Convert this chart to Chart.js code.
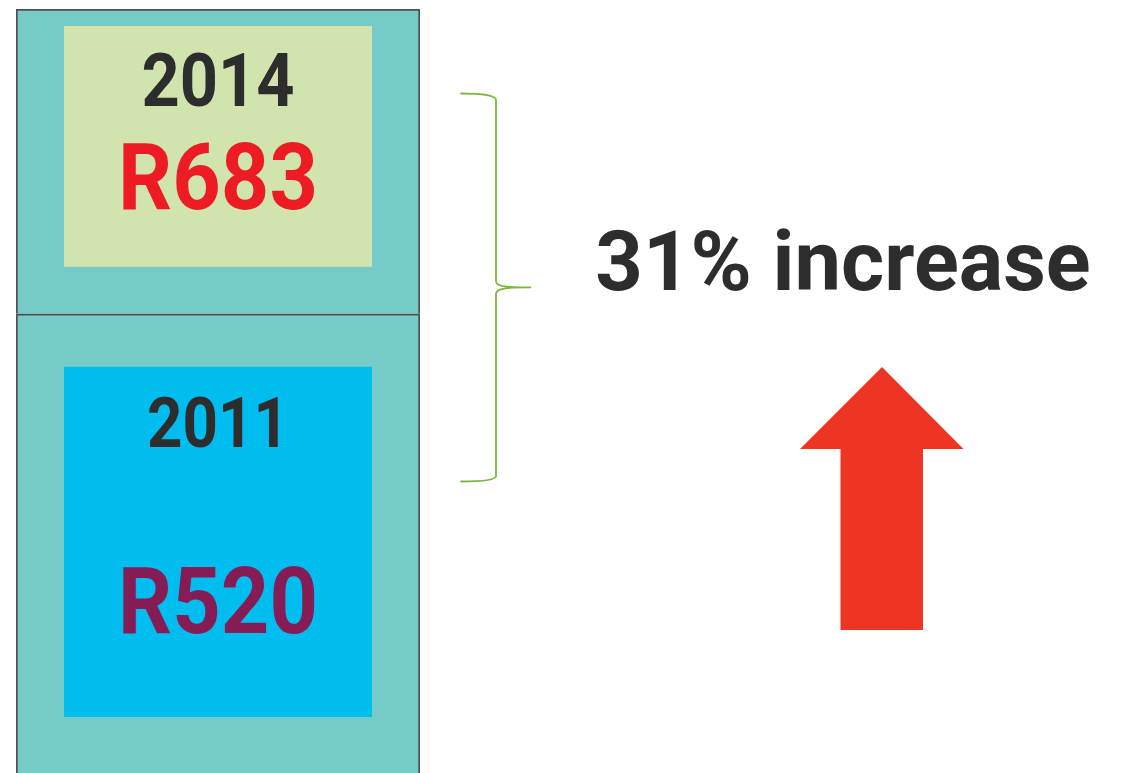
<!DOCTYPE html>
<html>
<head>
<meta charset="utf-8">
<title>Price comparison 2011 - 2014</title>
<script src="https://cdn.jsdelivr.net/npm/chart.js@4/dist/chart.umd.min.js"></script>
<style>
  html, body { margin: 0; padding: 0; background: #ffffff; overflow: hidden; }
  #chart { display: block; }
</style>
</head>
<body>
<canvas id="chart" width="1121" height="773"></canvas>
<script>
// stacked from the bottom: 2011 first, then 2014 on top
const years = ['2011', '2014'];
const prices = [520, 683];
const priceLabels = prices.map(p => 'R' + p);

// per-segment look: inner panel colour, text colours, panel insets, text baselines
const panelColors = ['#00bdf0', '#d2e4ae'];
const yearColor = '#2d2d2d';
const priceColors = ['#861c56', '#ed1c24'];
const panelInsets = [
  { top: 53, bottom: 56, yearBase: 80, priceBase: 266, yearSize: 71, yearWidth: 142 },
  { top: 17, bottom: 47, yearBase: 80, priceBase: 183, yearSize: 74, yearWidth: 153 }
];

const FONT = 'Roboto, "Liberation Sans", sans-serif';

// draws the inner panel with year and price on each bar segment
const segmentLabels = {
  id: 'segmentLabels',
  afterDatasetsDraw(chart) {
    const ctx = chart.ctx;
    ctx.save();
    chart.data.datasets.forEach((ds, i) => {
      const el = chart.getDatasetMeta(i).data[0];
      const { x, y, base, width } = el.getProps(['x', 'y', 'base', 'width'], true);
      const inset = panelInsets[i];
      const left = x - width / 2 + 48;
      const right = x + width / 2 - 48;
      const top = y + inset.top;
      const bottom = base - inset.bottom;
      ctx.fillStyle = panelColors[i];
      ctx.fillRect(left, top, right - left, bottom - top);

      const cx = (left + right) / 2;
      ctx.textAlign = 'center';
      ctx.textBaseline = 'alphabetic';
      ctx.fillStyle = yearColor;
      ctx.font = `bold ${inset.yearSize}px ${FONT}`;
      ctx.fillText(ds.label, cx, top + inset.yearBase, inset.yearWidth);

      ctx.fillStyle = priceColors[i];
      ctx.font = `bold 93px ${FONT}`;
      ctx.fillText(priceLabels[i], cx, top + inset.priceBase, 200);
    });
    ctx.restore();
  }
};

// brace, percentage text and the up arrow to the right of the column
const increaseNote = {
  id: 'increaseNote',
  afterDraw(chart) {
    const ctx = chart.ctx;
    const pct = Math.round((prices[1] - prices[0]) / prices[0] * 100);
    ctx.save();

    ctx.strokeStyle = '#7cb83f';
    ctx.lineWidth = 1.8;
    ctx.lineCap = 'round';
    ctx.beginPath();
    ctx.moveTo(461, 93.5);
    ctx.bezierCurveTo(482, 93.5, 496, 95, 496, 100);
    ctx.lineTo(496, 281);
    ctx.bezierCurveTo(496, 286, 503, 287.3, 531, 287.3);
    ctx.bezierCurveTo(503, 287.3, 496, 289, 496, 294);
    ctx.lineTo(496, 476);
    ctx.bezierCurveTo(496, 480, 482, 481.5, 461, 481.5);
    ctx.stroke();

    ctx.fillStyle = '#2d2d2d';
    ctx.font = `bold 83px ${FONT}`;
    ctx.textAlign = 'center';
    ctx.textBaseline = 'alphabetic';
    ctx.fillText(`${pct}% increase`, 843, 290, 498);

    ctx.fillStyle = '#ee3524';
    ctx.beginPath();
    ctx.moveTo(882, 367);
    ctx.lineTo(963.5, 449);
    ctx.lineTo(923, 449);
    ctx.lineTo(923, 630);
    ctx.lineTo(840.5, 630);
    ctx.lineTo(840.5, 449);
    ctx.lineTo(800, 449);
    ctx.closePath();
    ctx.fill();

    ctx.restore();
  }
};

new Chart(document.getElementById('chart'), {
  type: 'bar',
  data: {
    labels: [''],
    datasets: years.map((year, i) => ({
      label: year,
      data: [prices[i]],
      backgroundColor: '#76cbc9',
      borderColor: '#4f4f4f',
      borderWidth: 2,
      borderSkipped: 'start',
      categoryPercentage: 1,
      barPercentage: 1
    }))
  },
  options: {
    responsive: false,
    animation: false,
    layout: { padding: { top: 9, bottom: 0, left: 16, right: 701 } },
    plugins: {
      legend: { display: false },
      tooltip: { enabled: false }
    },
    scales: {
      x: { stacked: true, display: false },
      y: {
        type: 'logarithmic',
        stacked: true,
        display: false,
        min: 147,
        max: prices[0] + prices[1]
      }
    }
  },
  plugins: [segmentLabels, increaseNote]
});
</script>
</body>
</html>
